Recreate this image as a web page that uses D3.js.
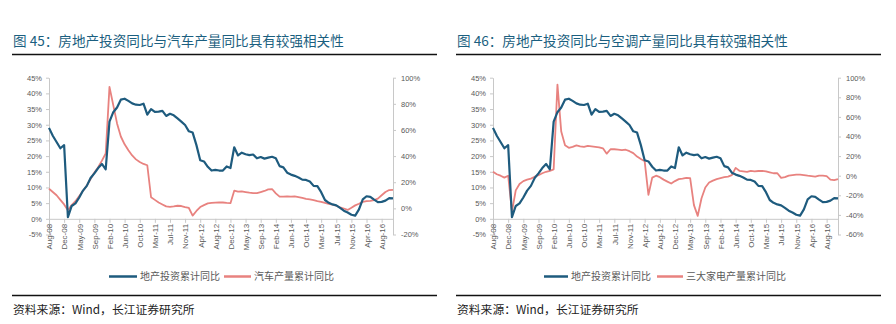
<!DOCTYPE html>
<html>
<head>
<meta charset="utf-8">
<script src="https://cdn.jsdelivr.net/npm/d3@7"></script>
<style>
  body { margin: 0; background: #fff; }
  svg { display: block; }
</style>
</head>
<body>
<svg id="chart" width="896" height="324"></svg>
<script>
const categories = [
  "Aug-08","Sep-08","Oct-08","Nov-08","Dec-08",
  "Feb-09","Mar-09","Apr-09","May-09","Jun-09","Jul-09","Aug-09","Sep-09","Oct-09","Nov-09","Dec-09",
  "Feb-10","Mar-10","Apr-10","May-10","Jun-10","Jul-10","Aug-10","Sep-10","Oct-10","Nov-10","Dec-10",
  "Feb-11","Mar-11","Apr-11","May-11","Jun-11","Jul-11","Aug-11","Sep-11","Oct-11","Nov-11","Dec-11",
  "Feb-12","Mar-12","Apr-12","May-12","Jun-12","Jul-12","Aug-12","Sep-12","Oct-12","Nov-12","Dec-12",
  "Feb-13","Mar-13","Apr-13","May-13","Jun-13","Jul-13","Aug-13","Sep-13","Oct-13","Nov-13","Dec-13",
  "Feb-14","Mar-14","Apr-14","May-14","Jun-14","Jul-14","Aug-14","Sep-14","Oct-14","Nov-14","Dec-14",
  "Feb-15","Mar-15","Apr-15","May-15","Jun-15","Jul-15","Aug-15","Sep-15","Oct-15","Nov-15","Dec-15",
  "Feb-16","Mar-16","Apr-16","May-16","Jun-16","Jul-16","Aug-16","Sep-16","Oct-16","Nov-16"
];
const tickLabels = ["Aug-08","Dec-08","May-09","Sep-09","Feb-10","Jun-10","Oct-10","Mar-11","Jul-11","Nov-11","Apr-12","Aug-12","Dec-12","May-13","Sep-13","Feb-14","Jun-14","Oct-14","Mar-15","Jul-15","Nov-15","Apr-16","Aug-16"];

// 地产投资累计同比 (%), left axis
const realEstate = [
  29.0, 26.5, 24.5, 22.5, 23.5,
  0.5, 4.1, 4.9, 6.8, 9.0, 10.5, 13.0, 14.5, 16.2, 17.5, 15.8,
  31.0, 34.0, 35.5, 38.0, 38.3, 37.6, 36.8, 36.4, 36.3, 36.7, 33.2,
  35.0, 34.1, 34.2, 34.4, 32.8, 33.5, 33.0, 32.0, 31.0, 29.9, 27.9,
  27.5, 23.5, 18.7, 18.3, 16.6, 15.4, 15.6, 15.4, 15.4, 16.7, 16.2,
  22.8, 20.2, 21.1, 20.6, 20.3, 20.5, 19.3, 19.7, 19.2, 19.5, 19.8,
  19.3, 16.8, 16.4, 14.7, 14.1, 13.7, 13.2, 12.5, 12.4, 11.9, 10.5,
  10.4, 8.5, 6.0, 5.1, 4.6, 4.3, 3.5, 2.6, 2.0, 1.3, 1.0,
  3.0, 6.2, 7.2, 7.0, 6.1, 5.3, 5.4, 5.8, 6.6, 6.5
];
// 汽车产量累计同比 (%), right axis of chart 45
const autoOutput = [
  15.0, 12.5, 10.0, 6.5, 3.0,
  -1.5, 2.5, 5.5, 9.5, 13.5, 17.5, 22.5, 27.5, 31.5, 36.5, 42.0,
  93.0, 79.0, 65.0, 55.0, 49.0, 44.5, 40.5, 37.5, 35.5, 34.0, 33.0,
  8.5, 6.5, 4.5, 3.0, 1.5, 1.2, 1.5, 2.0, 1.8, 1.0, 0.3,
  -5.5, -2.0, 1.0, 2.5, 3.8, 4.2, 4.4, 4.6, 4.5, 4.2, 4.0,
  13.5, 12.8, 13.0, 12.5, 12.0, 11.6, 11.7, 12.5, 13.3, 14.5, 14.8,
  11.5, 9.0, 9.0, 9.2, 9.0, 9.1, 8.6, 8.0, 7.3, 6.8, 6.3,
  5.6, 5.0, 4.2, 3.4, 2.8, 2.0, 0.8, -0.1, -1.2, 0.5, 2.3,
  3.5, 5.0, 5.6, 5.8, 6.3, 7.5, 10.0, 12.5, 14.0, 14.2
];
// 三大家电产量累计同比 (%), right axis of chart 46
const appliance = [
  4.0, 1.5, 0.0, -2.0, 0.0,
  -36.5, -15.0, -8.5, -5.5, -4.0, -3.0, -1.0, 0.5, 2.5, 4.0, 5.0,
  6.5, 93.0, 45.0, 31.0, 28.5, 29.5, 31.0, 30.0, 29.5, 30.5, 30.0,
  29.5, 29.0, 28.0, 22.5, 27.0, 27.0, 26.5, 26.0, 26.5, 25.0, 23.0,
  19.5, 17.0, 14.8, -19.5, -2.0, 0.0, -1.5, -4.0, -6.0, -8.0, -5.5,
  -3.5, -3.0, -2.2, -2.5, -30.0, -41.0, -23.0, -12.0, -7.0, -5.0, -3.5,
  -2.5, -1.5, -1.0, 0.5, 8.0, 5.0, 4.5, 4.0, 5.0, 4.5, 4.8,
  5.0, 4.5, 3.5, 2.5, 2.5, -2.2, -1.5, 0.0, 0.5, 1.0, 1.0,
  0.6, 0.0, -0.5, -1.0, 0.0, 0.0, -0.5, -4.0, -4.5, -3.5
];

const leftTicks = [-5, 0, 5, 10, 15, 20, 25, 30, 35, 40, 45];
const rightTicks45 = [-20, 0, 20, 40, 60, 80, 100];
const rightTicks46 = [-60, -40, -20, 0, 20, 40, 60, 80, 100];

const panels = [
  { ox: 0, x0: 49, x1: 393, title: "图 45：房地产投资同比与汽车产量同比具有较强相关性",
    red: autoOutput, rDomain: [-20, 100], rTicks: rightTicks45,
    legendNames: ["地产投资累计同比", "汽车产量累计同比"],
    legend: [109, 137, 140, 224, 251, 254] },
  { ox: 444, x0: 493, x1: 838, title: "图 46：房地产投资同比与空调产量同比具有较强相关性",
    red: appliance, rDomain: [-60, 100], rTicks: rightTicks46,
    legendNames: ["地产投资累计同比", "三大家电产量累计同比"],
    legend: [544, 568, 571, 657, 683, 686] }
];

const BLUE = "#1E5B7E";
const RED = "#E8827F";
const AX = "#C8C8C8";
const LBL = "#595959";
const yTop = 77.7, yBot = 234.5;
const svg = d3.select("#chart");

panels.forEach(p => {
  const g = svg.append("g");
  // title
  g.append("text").attr("x", 13 + p.ox).attr("y", 46)
    .attr("font-family", "'Noto Sans CJK SC', sans-serif").attr("font-size", 13.6)
    .attr("fill", "#1B5F80").text(p.title);
  g.append("line").attr("x1", 12 + p.ox).attr("x2", 437 + p.ox).attr("y1", 54.5).attr("y2", 54.5)
    .attr("stroke", "#111").attr("stroke-width", 1.3);

  const x = d3.scalePoint().domain(categories).range([p.x0, p.x1]);
  const yL = d3.scaleLinear().domain([-5, 45]).range([yBot, yTop]);
  const yR = d3.scaleLinear().domain(p.rDomain).range([yBot, yTop]);

  const styleAxis = sel => {
    sel.selectAll("path.domain").attr("stroke", AX);
    sel.selectAll(".tick line").attr("stroke", AX);
    sel.selectAll("text").attr("fill", LBL)
      .attr("font-family", "'Liberation Sans', Arial, sans-serif").attr("font-size", 7.5);
  };

  const axL = g.append("g").attr("transform", `translate(${p.x0},0)`)
    .call(d3.axisLeft(yL).tickValues(leftTicks).tickSize(3).tickPadding(4).tickSizeOuter(0).tickFormat(d => d + "%"));
  styleAxis(axL);
  const axR = g.append("g").attr("transform", `translate(${p.x1},0)`)
    .call(d3.axisRight(yR).tickValues(p.rTicks).tickSize(3).tickPadding(5).tickSizeOuter(0).tickFormat(d => d + "%"));
  styleAxis(axR);

  const axX = g.append("g").attr("transform", `translate(0,${yL(0)})`)
    .call(d3.axisBottom(x).tickValues(tickLabels).tickSize(4).tickSizeOuter(0));
  styleAxis(axX);
  axX.selectAll("text").attr("font-size", 8)
    .attr("transform", "rotate(-90)").attr("x", -5).attr("y", 0).attr("dy", "0.35em")
    .style("text-anchor", "end");

  const lineL = d3.line().x((d, i) => x(categories[i])).y(d => yL(d));
  const lineR = d3.line().x((d, i) => x(categories[i])).y(d => yR(d));

  g.append("path").datum(p.red).attr("d", lineR).attr("fill", "none")
    .attr("stroke", RED).attr("stroke-width", 1.8).attr("stroke-linejoin", "round");
  g.append("path").datum(realEstate).attr("d", lineL).attr("fill", "none")
    .attr("stroke", BLUE).attr("stroke-width", 2.2).attr("stroke-linejoin", "round");

  // legend
  const L = p.legend, ly = 276.5;
  g.append("line").attr("x1", L[0]).attr("x2", L[1]).attr("y1", ly).attr("y2", ly)
    .attr("stroke", BLUE).attr("stroke-width", 2.5);
  g.append("text").attr("x", L[2]).attr("y", ly + 3.6).text(p.legendNames[0])
    .attr("font-family", "'Noto Sans CJK SC', sans-serif").attr("font-size", 10).attr("fill", LBL);
  g.append("line").attr("x1", L[3]).attr("x2", L[4]).attr("y1", ly).attr("y2", ly)
    .attr("stroke", RED).attr("stroke-width", 2.5);
  g.append("text").attr("x", L[5]).attr("y", ly + 3.6).text(p.legendNames[1])
    .attr("font-family", "'Noto Sans CJK SC', sans-serif").attr("font-size", 10).attr("fill", LBL);

  // source
  g.append("line").attr("x1", 12 + p.ox).attr("x2", 437 + p.ox).attr("y1", 295.5).attr("y2", 295.5)
    .attr("stroke", "#111").attr("stroke-width", 1.3);
  g.append("text").attr("x", 13 + p.ox).attr("y", 314)
    .attr("font-family", "'Noto Sans CJK SC', sans-serif").attr("font-size", 11.8)
    .attr("fill", "#222").text("资料来源：Wind，长江证券研究所");
});
</script>
</body>
</html>
